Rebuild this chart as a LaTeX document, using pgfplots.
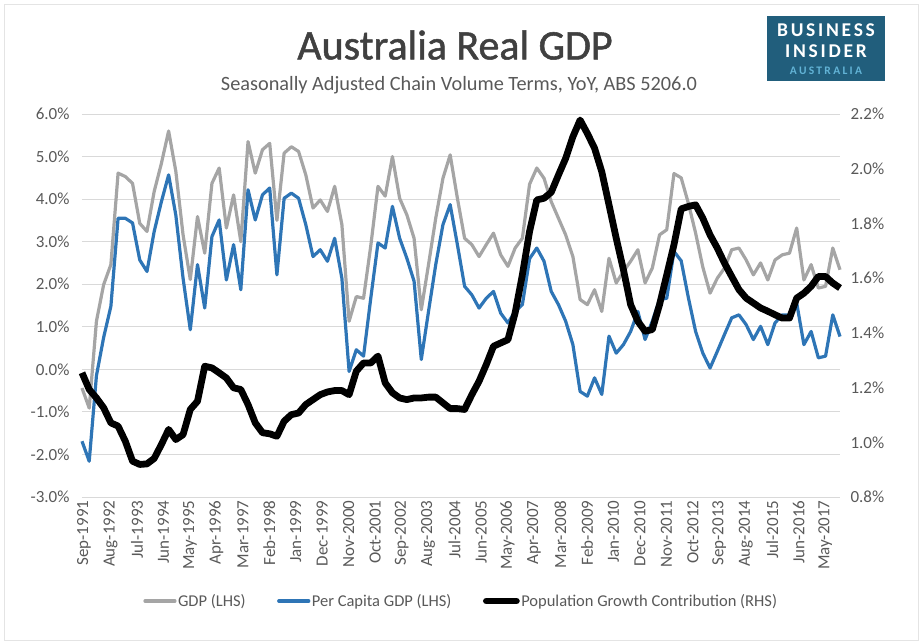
\documentclass[border=0pt]{standalone}
\usepackage{pgfplots}
\pgfplotsset{compat=1.18}
\usepackage{pgfplotstable}
\usepackage{fontspec}
\setmainfont{Carlito}
\newfontfamily\titlefont[FakeBold=1.2]{Carlito}
\definecolor{gdpgrey}{HTML}{A5A5A5}
\definecolor{pcblue}{HTML}{2E75B6}
\definecolor{txtgrey}{HTML}{595959}
\definecolor{titlegrey}{HTML}{404040}
\definecolor{gridgrey}{HTML}{D9D9D9}
\definecolor{bilogo}{HTML}{215E7C}
\definecolor{bilight}{HTML}{62B3D6}

\pgfplotstableread{
m gdp pc pop
0 -0.44 -1.69 1.254
3 -0.91 -2.16 1.193
6 1.13 -0.15 1.162
9 1.99 0.75 1.126
12 2.46 1.48 1.071
15 4.61 3.55 1.059
18 4.53 3.55 1.004
21 4.37 3.44 0.931
24 3.43 2.57 0.919
27 3.24 2.30 0.921
30 4.18 3.24 0.941
33 4.84 3.94 0.992
36 5.60 4.57 1.047
39 4.65 3.62 1.010
42 3.16 2.14 1.028
45 2.11 0.93 1.120
48 3.59 2.46 1.150
51 2.73 1.44 1.278
54 4.37 3.12 1.272
57 4.73 3.51 1.254
60 3.32 2.10 1.235
63 4.10 2.93 1.199
66 3.00 1.87 1.193
69 5.35 4.22 1.138
72 4.61 3.51 1.071
75 5.16 4.10 1.035
78 5.31 4.26 1.031
81 3.50 2.22 1.022
84 5.08 4.02 1.077
87 5.23 4.14 1.101
90 5.12 4.02 1.107
93 4.57 3.40 1.138
96 3.79 2.65 1.156
99 3.98 2.81 1.174
102 3.71 2.54 1.184
105 4.30 3.08 1.189
108 3.40 2.14 1.189
111 1.13 -0.05 1.174
114 1.71 0.46 1.260
117 1.67 0.31 1.290
120 2.90 1.67 1.290
123 4.30 2.97 1.315
126 4.07 2.85 1.217
129 5.00 3.83 1.181
132 4.02 3.08 1.162
135 3.63 2.61 1.156
138 3.08 2.07 1.162
141 1.40 0.23 1.162
144 2.46 1.36 1.165
147 3.55 2.46 1.165
150 4.49 3.40 1.144
153 5.04 3.87 1.123
156 4.02 2.93 1.123
159 3.08 1.95 1.120
162 2.93 1.75 1.174
165 2.65 1.44 1.223
168 2.93 1.67 1.284
171 3.20 1.83 1.351
174 2.69 1.32 1.363
177 2.42 1.09 1.375
180 2.85 1.36 1.473
183 3.08 1.52 1.612
186 4.35 2.60 1.771
189 4.73 2.85 1.886
192 4.49 2.54 1.892
195 3.94 1.83 1.914
198 3.55 1.52 1.977
201 3.16 1.13 2.038
204 2.65 0.58 2.117
207 1.64 -0.52 2.178
210 1.52 -0.63 2.129
213 1.87 -0.20 2.075
216 1.36 -0.59 1.989
219 2.61 0.78 1.868
222 2.03 0.38 1.746
225 2.30 0.58 1.631
228 2.54 0.89 1.503
231 2.81 1.36 1.442
234 2.03 0.70 1.406
237 2.38 1.13 1.412
240 3.16 1.64 1.503
243 3.28 1.67 1.612
246 4.60 2.77 1.722
249 4.50 2.55 1.853
252 3.90 1.68 1.862
255 3.20 0.89 1.868
258 2.40 0.38 1.819
261 1.79 0.03 1.758
264 2.14 0.42 1.710
267 2.38 0.82 1.655
270 2.81 1.21 1.606
273 2.85 1.28 1.558
276 2.57 1.05 1.527
279 2.22 0.70 1.509
282 2.50 1.01 1.491
285 2.10 0.58 1.479
288 2.57 1.09 1.466
291 2.69 1.28 1.454
294 2.73 1.28 1.454
297 3.32 1.56 1.527
300 2.10 0.58 1.545
303 2.46 0.89 1.570
306 1.91 0.27 1.606
309 1.95 0.31 1.606
312 2.85 1.28 1.582
315 2.34 0.77 1.564
}\data

\begin{document}
\begin{tikzpicture}
\path[use as bounding box] (-82pt,-147pt) rectangle (840pt,497pt);
\draw[gridgrey!70, line width=0.8pt] (-78pt,-143pt) rectangle (836pt,493pt);

\begin{axis}[
  at={(0pt,0pt)}, anchor=south west,
  scale only axis, width=758pt, height=383pt,
  xmin=0, xmax=315, ymin=-3, ymax=6,
  axis x line*=bottom, axis y line*=left,
  axis line style={draw=none},
  major tick length=0pt,
  ytick={-3,-2,-1,0,1,2,3,4,5,6},
  ymajorgrids, grid style={gridgrey, line width=0.9pt},
  /pgf/number format/assume math mode=true,
  yticklabel={\pgfmathprintnumber[fixed,fixed zerofill,precision=1]{\tick}\%},
  yticklabel style={text=txtgrey, font=\fontsize{17}{20}\selectfont, xshift=-9pt},
  xtick={0,11,...,308},
  xticklabels={Sep-1991,Aug-1992,Jul-1993,Jun-1994,May-1995,Apr-1996,Mar-1997,Feb-1998,Jan-1999,Dec-1999,Nov-2000,Oct-2001,Sep-2002,Aug-2003,Jul-2004,Jun-2005,May-2006,Apr-2007,Mar-2008,Feb-2009,Jan-2010,Dec-2010,Nov-2011,Oct-2012,Sep-2013,Aug-2014,Jul-2015,Jun-2016,May-2017},
  xticklabel style={rotate=90, anchor=east, text=txtgrey, font=\fontsize{17}{20}\selectfont, yshift=-2pt},
  clip=false,
]
\addplot[gdpgrey, line width=3.2pt, line join=round, no markers] table[x=m, y=gdp] {\data};
\addplot[pcblue, line width=3.2pt, line join=round, no markers] table[x=m, y=pc] {\data};
\end{axis}

\begin{axis}[
  at={(0pt,0pt)}, anchor=south west,
  scale only axis, width=758pt, height=383pt,
  xmin=0, xmax=315, ymin=0.8, ymax=2.2,
  axis x line=none, axis y line*=right,
  axis line style={draw=none},
  major tick length=0pt,
  ytick={0.8,1,1.2,1.4,1.6,1.8,2,2.2},
  /pgf/number format/assume math mode=true,
  yticklabel={\pgfmathprintnumber[fixed,fixed zerofill,precision=1]{\tick}\%},
  yticklabel style={text=txtgrey, font=\fontsize{17}{20}\selectfont, xshift=7pt},
  legend style={at={(0.5,-0.2715)}, anchor=center, draw=none, fill=none,
    legend columns=3, font=\fontsize{16.5}{20}\selectfont, text=txtgrey,
    nodes={inner xsep=1.5pt},
    /tikz/every even column/.append style={column sep=30pt}},
  legend cell align=left,
  legend image code/.code={\draw[#1, line cap=round] (0pt,0pt) -- (30pt,0pt);},
  clip=false,
]
\addlegendimage{gdpgrey, line width=3.2pt}
\addlegendentry{GDP (LHS)}
\addlegendimage{pcblue, line width=3.2pt}
\addlegendentry{Per Capita GDP (LHS)}
\addplot[black, line width=6.8pt, line join=round, no markers] table[x=m, y=pop] {\data};
\addlegendentry{Population Growth Contribution (RHS)}
\end{axis}

\node[text=titlegrey, font=\titlefont\fontsize{42}{48}\selectfont] at (373pt,452pt) {Australia Real GDP};
\node[text=txtgrey, font=\fontsize{20.3}{24}\selectfont] at (377pt,412pt) {Seasonally Adjusted Chain Volume Terms, YoY, ABS 5206.0};

\fill[bilogo] (685pt,416pt) rectangle (803pt,481pt);
\node[text=white, font=\fontsize{19.5}{22}\selectfont\bfseries\addfontfeatures{LetterSpace=14}] at (744pt,467pt) {BUSINESS};
\node[text=white, font=\fontsize{19.5}{22}\selectfont\bfseries\addfontfeatures{LetterSpace=14}] at (744pt,446pt) {INSIDER};
\node[text=bilight, font=\fontsize{11.5}{13}\selectfont\bfseries\addfontfeatures{LetterSpace=20}] at (744pt,426pt) {AUSTRALIA};
\end{tikzpicture}
\end{document}
